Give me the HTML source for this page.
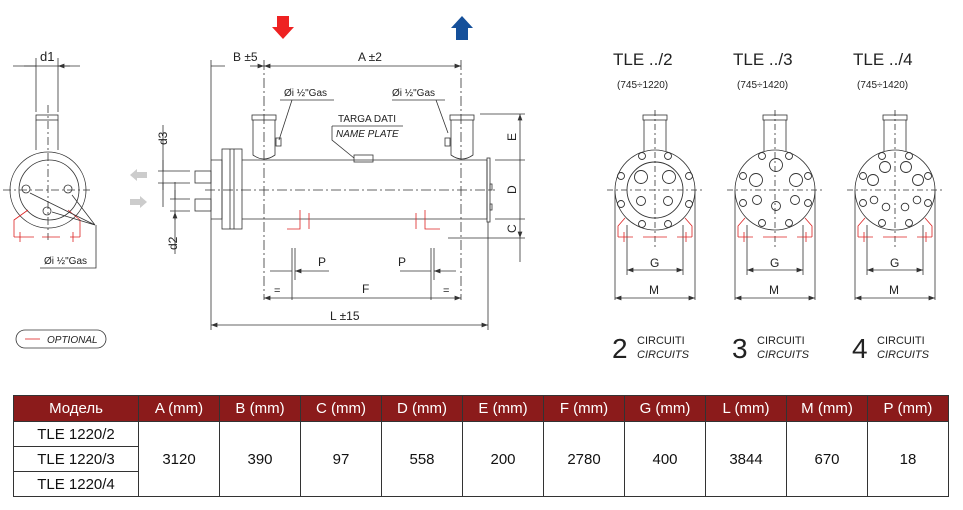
<!DOCTYPE html>
<html><head><meta charset="utf-8"><style>
body{margin:0;background:#fff;width:963px;height:510px;overflow:hidden;font-family:"Liberation Sans",sans-serif}
svg{position:absolute;left:0;top:0}
table{position:absolute;left:13px;top:395px;border-collapse:collapse;font-family:"Liberation Sans","DejaVu Sans",sans-serif;font-size:15px;color:#111}
td,th{border:1.5px solid #333;text-align:center;padding:0;width:80px}
th{background:#8b1b1b;color:#fff;font-weight:normal;height:25px}
td{height:24px}
</style></head><body>
<svg width="963" height="390" viewBox="0 0 963 390" font-family="Liberation Sans,sans-serif" fill="none" stroke="#333" stroke-width="0.8">
<defs><marker id="a" markerWidth="8" markerHeight="6" refX="8" refY="3" orient="auto-start-reverse"><path d="M0,0L8,3L0,6z" fill="#333" stroke="none"/></marker>
<g id="v">
<rect x="-12" y="115" width="24" height="5"/><path d="M-11 120V151M11 120V151"/>
<circle cx="0" cy="190" r="40"/>
<path d="M-48 190H48M0 110V250" stroke-dasharray="6 3 2 3"/>
<path d="M-40 190V300M40 190V300M-28 225V275M28 225V275"/>
<path d="M-28 270H28" marker-start="url(#a)" marker-end="url(#a)"/>
<path d="M-40 298H40" marker-start="url(#a)" marker-end="url(#a)"/>
<text x="-5" y="267" font-size="12" fill="#222" stroke="none">G</text>
<text x="-6" y="294" font-size="12" fill="#222" stroke="none">M</text>
<path d="M-30 218L-37 226V237M30 218L37 226V237M-37 237H-22M-12 237H12M22 237H37M-31 232V242M31 232V242" stroke="#d22"/>
</g>
</defs>
<!-- left view -->
<line x1="13" y1="66" x2="80" y2="66"/><path d="M24 66H36M70 66H58" marker-end="url(#a)"/>
<line x1="36" y1="58" x2="36" y2="112"/><line x1="58" y1="58" x2="58" y2="112"/>
<text x="40" y="61" font-size="13" fill="#222" stroke="none">d1</text>
<rect x="36" y="115" width="22" height="5"/><path d="M36 120V150M58 120V150"/>
<circle cx="48" cy="190" r="38"/><circle cx="49" cy="190" r="30"/>
<circle cx="26" cy="189" r="4"/><circle cx="68" cy="189" r="4"/><circle cx="47" cy="211" r="4"/>
<path d="M3 190H90M48 105V240" stroke-dasharray="8 3 2 3"/>
<path d="M14 237V220L28 210M80 237V220L68 210M14 237H34M42 237H60M70 237H80M20 232V242M73 232V242" stroke="#d22"/>
<path d="M95 225L30 193M95 225L72 195M95 225L52 212M96 225V268H40"/>
<text x="44" y="264" font-size="10" fill="#222" stroke="none">Øi ½"Gas</text>
<rect x="16" y="330" width="90" height="18" rx="9"/><path d="M25 339H40" stroke="#d22"/>
<text x="47" y="343" font-size="10" font-style="italic" fill="#222" stroke="none">OPTIONAL</text>
<!-- grey arrows -->
<path d="M130 175l7-6v3h10v6h-10v3z" fill="#ccc" stroke="none"/>
<path d="M147 202l-7-6v3h-10v6h10v3z" fill="#ccc" stroke="none"/>
<!-- main body -->
<path d="M211 160H222V219H211" /><rect x="222" y="149" width="20" height="80"/><path d="M230 149V229M234 149V229"/>
<rect x="195" y="171" width="16" height="12"/><rect x="195" y="199" width="16" height="12"/>
<path d="M242 160H487V219H242"/><rect x="487" y="158" width="3" height="64"/><rect x="490" y="184" width="2" height="6"/><rect x="490" y="204" width="2" height="6"/>
<rect x="252" y="115" width="24" height="5"/><path d="M253 120V155Q264 163 275 155V120"/>
<rect x="450" y="115" width="24" height="5"/><path d="M451 120V155Q462 163 473 155V120"/>
<rect x="276" y="138" width="5" height="8"/><rect x="445" y="138" width="5" height="8"/>
<path d="M205 190H495M264 60V300M461 60V300" stroke-dasharray="10 3 2 3"/>
<path d="M300 210V229H287M309 213V229M425 210V229H440M416 213V229" stroke="#d22"/>
<!-- dims -->
<path d="M211 60V330M488 222V330"/>
<path d="M225 66H211M250 66H264" marker-end="url(#a)"/><path d="M264 66H461" marker-start="url(#a)" marker-end="url(#a)"/>
<text x="233" y="61" font-size="12" fill="#222" stroke="none">B ±5</text>
<text x="358" y="61" font-size="12" fill="#222" stroke="none">A ±2</text>
<path d="M211 325H488" marker-start="url(#a)" marker-end="url(#a)"/>
<text x="330" y="320" font-size="12" fill="#222" stroke="none">L ±15</text>
<path d="M264 298H293M293 298H432M432 298H461" marker-start="url(#a)" marker-end="url(#a)"/>
<text x="362" y="293" font-size="12" fill="#222" stroke="none">F</text>
<text x="274" y="294" font-size="11" fill="#222" stroke="none">=</text><text x="443" y="294" font-size="11" fill="#222" stroke="none">=</text>
<path d="M292 248V300M295 248V280M431 248V300M434 248V280"/>
<path d="M270 271H292M316 271H295M329 271H295" marker-end="url(#a)"/>
<path d="M400 271H431M456 271H434" marker-end="url(#a)"/>
<text x="318" y="266" font-size="12" fill="#222" stroke="none">P</text><text x="398" y="266" font-size="12" fill="#222" stroke="none">P</text>
<path d="M480 114H525M495 160H525M495 219H525M448 238H525"/>
<path d="M520 114V160M520 160V219M520 219V238" marker-start="url(#a)" marker-end="url(#a)"/>
<path d="M520 238V262"/>
<text font-size="12" fill="#222" stroke="none" transform="translate(516,141) rotate(-90)">E</text>
<text font-size="12" fill="#222" stroke="none" transform="translate(516,194) rotate(-90)">D</text>
<text font-size="12" fill="#222" stroke="none" transform="translate(516,233) rotate(-90)">C</text>
<path d="M163 125V172M163 207V172M175 182V254"/>
<path d="M163 160V171M163 190V183M175 190V199M175 220V212" marker-end="url(#a)"/>
<path d="M158 171H190M158 183H190M170 199H190M170 211H190"/>
<text font-size="12" fill="#222" stroke="none" transform="translate(167,145) rotate(-90)">d3</text>
<text font-size="12" fill="#222" stroke="none" transform="translate(177,250) rotate(-90)">d2</text>
<path d="M280 100H334M292 100L279 140M392 100H445M436 100L448 133"/>
<text x="284" y="96" font-size="10" fill="#222" stroke="none">Øi ½"Gas</text>
<text x="392" y="96" font-size="10" fill="#222" stroke="none">Øi ½"Gas</text>
<text x="338" y="122" font-size="10" fill="#222" stroke="none">TARGA DATI</text>
<path d="M332 126H403M332 126V140L354 158"/>
<text x="336" y="137" font-size="10" font-style="italic" fill="#222" stroke="none">NAME PLATE</text>
<rect x="354" y="155" width="19" height="7"/>
<path d="M277 16h12v11h5l-11 12l-11-12h5z" fill="#e22" stroke="none"/>
<path d="M456 40h12v-12h5l-11-12l-11 12h5z" fill="#15509a" stroke="none"/>
<!-- right views -->
<use href="#v" x="655"/><use href="#v" x="775"/><use href="#v" x="895"/>
<g stroke-width="0.9">
<circle cx="655" cy="190" r="28"/>
<circle cx="641" cy="177" r="6.5"/><circle cx="669" cy="177" r="6.5"/><circle cx="641" cy="201" r="4.5"/><circle cx="668" cy="201" r="4.5"/>
<circle cx="642" cy="156" r="3.5"/><circle cx="668" cy="156" r="3.5"/><circle cx="621" cy="176" r="3.5"/><circle cx="689" cy="176" r="3.5"/><circle cx="621" cy="204" r="3.5"/><circle cx="689" cy="204" r="3.5"/><circle cx="642" cy="224" r="3.5"/><circle cx="668" cy="224" r="3.5"/>
<circle cx="776" cy="165" r="6.5"/><circle cx="756" cy="180" r="6.5"/><circle cx="796" cy="180" r="6.5"/><circle cx="757" cy="200" r="4.5"/><circle cx="795" cy="200" r="4.5"/><circle cx="776" cy="206" r="4.5"/>
<circle cx="762" cy="156" r="3.5"/><circle cx="789" cy="156" r="3.5"/><circle cx="743" cy="176" r="3.5"/><circle cx="808" cy="176" r="3.5"/><circle cx="743" cy="203" r="3.5"/><circle cx="808" cy="203" r="3.5"/><circle cx="762" cy="223" r="3.5"/><circle cx="789" cy="223" r="3.5"/>
<circle cx="885" cy="167" r="5.5"/><circle cx="906" cy="167" r="5.5"/><circle cx="873" cy="180" r="5.5"/><circle cx="918" cy="180" r="5.5"/><circle cx="874" cy="200" r="3.8"/><circle cx="917" cy="200" r="3.8"/><circle cx="886" cy="207" r="3.8"/><circle cx="905" cy="207" r="3.8"/>
<circle cx="882" cy="156" r="3.5"/><circle cx="909" cy="156" r="3.5"/><circle cx="863" cy="176" r="3.5"/><circle cx="928" cy="176" r="3.5"/><circle cx="863" cy="203" r="3.5"/><circle cx="928" cy="203" r="3.5"/><circle cx="882" cy="223" r="3.5"/><circle cx="909" cy="223" r="3.5"/>
</g>
<g fill="#222" stroke="none">
<text x="613" y="65" font-size="17">TLE ../2</text><text x="617" y="88" font-size="10">(745÷1220)</text>
<text x="733" y="65" font-size="17">TLE ../3</text><text x="737" y="88" font-size="10">(745÷1420)</text>
<text x="853" y="65" font-size="17">TLE ../4</text><text x="857" y="88" font-size="10">(745÷1420)</text>
<text x="612" y="358" font-size="28">2</text><text x="637" y="344" font-size="11">CIRCUITI</text><text x="637" y="358" font-size="11" font-style="italic">CIRCUITS</text>
<text x="732" y="358" font-size="28">3</text><text x="757" y="344" font-size="11">CIRCUITI</text><text x="757" y="358" font-size="11" font-style="italic">CIRCUITS</text>
<text x="852" y="358" font-size="28">4</text><text x="877" y="344" font-size="11">CIRCUITI</text><text x="877" y="358" font-size="11" font-style="italic">CIRCUITS</text>
</g>
</svg>
<table>
<tr><th style="width:124px">Модель</th><th>A (mm)</th><th>B (mm)</th><th>C (mm)</th><th>D (mm)</th><th>E (mm)</th><th>F (mm)</th><th>G (mm)</th><th>L (mm)</th><th>M (mm)</th><th>P (mm)</th></tr>
<tr><td>TLE 1220/2</td><td rowspan="3">3120</td><td rowspan="3">390</td><td rowspan="3">97</td><td rowspan="3">558</td><td rowspan="3">200</td><td rowspan="3">2780</td><td rowspan="3">400</td><td rowspan="3">3844</td><td rowspan="3">670</td><td rowspan="3">18</td></tr>
<tr><td>TLE 1220/3</td></tr>
<tr><td>TLE 1220/4</td></tr>
</table>
</body></html>
